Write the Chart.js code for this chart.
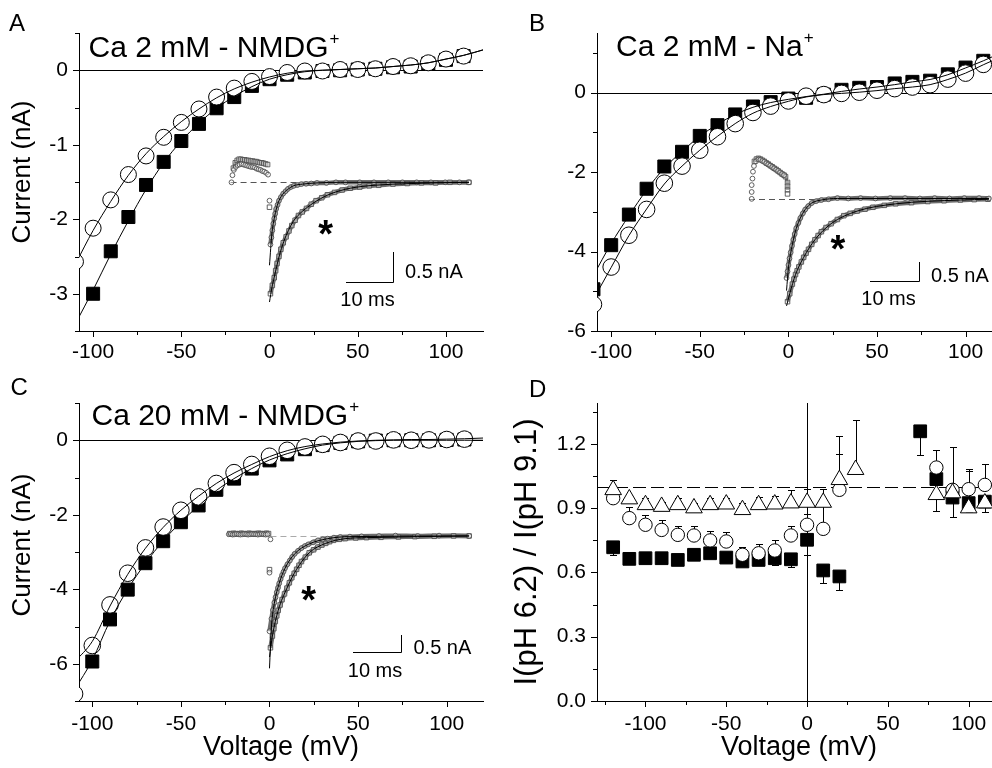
<!DOCTYPE html>
<html><head><meta charset="utf-8"><title>Figure</title>
<script src="https://cdn.jsdelivr.net/npm/chart.js@4.4.1/dist/chart.umd.min.js"></script>
<style>
html,body{margin:0;padding:0;background:#fff;overflow:hidden;}
body{position:relative;width:992px;height:768px;}
canvas{position:absolute;display:block;}
</style></head>
<body>
<canvas id="cA" width="496" height="370" style="left:0px;top:0px"></canvas>
<canvas id="cB" width="520" height="370" style="left:496px;top:0px"></canvas>
<canvas id="cC" width="496" height="398" style="left:0px;top:370px"></canvas>
<canvas id="cD" width="520" height="398" style="left:496px;top:370px"></canvas>
<canvas id="iA" width="265" height="185" style="left:215px;top:140px"></canvas>
<canvas id="iB" width="257" height="185" style="left:735px;top:140px"></canvas>
<canvas id="iC" width="265" height="190" style="left:215px;top:500px"></canvas>
<script>
// ================= DATA =================
// ---- Panel A : Ca 2 mM - NMDG+ (Voltage mV, Current nA)
const aSqV = [-100,-90,-80,-70,-60,-50,-40,-30,-20,-10,0,10,20,30,40,50,60,70,80,90,100,110];
const aSqI = [-3.0,-2.43,-1.97,-1.54,-1.23,-0.95,-0.72,-0.51,-0.36,-0.21,-0.12,-0.06,-0.03,-0.01,0.0,0.01,0.02,0.04,0.05,0.09,0.14,0.19];
const aCiV = [-110,-100,-90,-80,-70,-60,-50,-40,-30,-20,-10,0,10,20,30,40,50,60,70,80,90,100,110];
const aCiI = [-2.57,-2.12,-1.74,-1.40,-1.15,-0.90,-0.70,-0.52,-0.36,-0.24,-0.15,-0.085,-0.03,-0.01,-0.01,0.01,0.01,0.02,0.05,0.06,0.10,0.15,0.19];
const aFitSqV = [-110,-100,-90,-80,-70,-60,-50,-40,-30,-20,-10,0,10,20,30,40,50,60,70,80,90,100,110,122];
const aFitSqI = [-3.4,-2.95,-2.47,-2.02,-1.60,-1.24,-0.95,-0.71,-0.51,-0.35,-0.22,-0.12,-0.06,-0.02,0.0,0.01,0.02,0.03,0.05,0.07,0.10,0.15,0.20,0.28];
const aFitCiV = [-110,-100,-90,-80,-70,-60,-50,-40,-30,-20,-10,0,10,20,30,40,50,60,70,80,90,100,110,122];
const aFitCiI = [-2.6,-2.15,-1.76,-1.41,-1.12,-0.89,-0.69,-0.52,-0.37,-0.25,-0.16,-0.09,-0.04,-0.01,0.0,0.01,0.02,0.03,0.05,0.07,0.10,0.15,0.20,0.28];

// ---- Panel B : Ca 2 mM - Na+
const bSqV = [-110,-100,-90,-80,-70,-60,-50,-40,-30,-20,-10,0,10,20,30,40,50,60,70,80,90,100,110];
const bSqI = [-4.95,-3.84,-3.07,-2.42,-1.86,-1.49,-1.09,-0.82,-0.55,-0.35,-0.24,-0.15,-0.13,-0.05,0.07,0.12,0.14,0.23,0.27,0.30,0.46,0.63,0.80];
const bCiV = [-110,-100,-90,-80,-70,-60,-50,-40,-30,-20,-10,0,10,20,30,40,50,60,70,80,90,100,110];
const bCiI = [-5.33,-4.39,-3.59,-2.94,-2.28,-1.85,-1.45,-1.11,-0.78,-0.50,-0.34,-0.21,-0.09,-0.05,-0.02,0.01,0.06,0.10,0.14,0.20,0.34,0.49,0.71];
const bFitSqV = [-110,-100,-90,-80,-70,-60,-50,-40,-30,-20,-10,0,10,20,30,40,50,60,70,80,90,100,110,120];
const bFitSqI = [-4.6,-3.8,-3.1,-2.45,-1.90,-1.48,-1.10,-0.80,-0.55,-0.37,-0.25,-0.17,-0.10,-0.04,0.03,0.09,0.14,0.20,0.27,0.33,0.45,0.62,0.80,1.0];
const bFitCiV = [-110,-100,-90,-80,-70,-60,-50,-40,-30,-20,-10,0,10,20,30,40,50,60,70,80,90,100,110,120];
const bFitCiI = [-5.2,-4.4,-3.6,-2.93,-2.30,-1.85,-1.45,-1.10,-0.78,-0.52,-0.35,-0.22,-0.11,-0.05,-0.02,0.01,0.05,0.10,0.14,0.20,0.33,0.49,0.70,0.90];

// ---- Panel C : Ca 20 mM - NMDG+
const cSqV = [-100,-90,-80,-70,-60,-50,-40,-30,-20,-10,0,10,20,30,40,50,60,70,80,90,100,110];
const cSqI = [-5.94,-4.81,-4.01,-3.30,-2.71,-2.20,-1.75,-1.33,-1.03,-0.76,-0.54,-0.38,-0.24,-0.13,-0.07,-0.03,-0.01,0.0,0.0,0.0,0.01,0.02];
const cCiV = [-110,-100,-90,-80,-70,-60,-50,-40,-30,-20,-10,0,10,20,30,40,50,60,70,80,90,100,110];
const cCiI = [-6.81,-5.51,-4.42,-3.57,-2.89,-2.33,-1.88,-1.52,-1.16,-0.87,-0.65,-0.43,-0.27,-0.18,-0.11,-0.06,-0.02,-0.02,0.01,0.0,0.01,0.02,0.03];
const cFitSqV = [-110,-100,-90,-80,-70,-60,-50,-40,-30,-20,-10,0,10,20,30,40,50,60,70,80,90,100,110,121];
const cFitSqI = [-6.7,-5.9,-4.85,-4.0,-3.3,-2.7,-2.2,-1.76,-1.35,-1.03,-0.76,-0.53,-0.36,-0.23,-0.13,-0.07,-0.03,-0.01,0.0,0.0,0.0,0.0,0.0,0.0];
const cFitCiV = [-110,-100,-90,-80,-70,-60,-50,-40,-30,-20,-10,0,10,20,30,40,50,60,70,80,90,100,110,121];
const cFitCiI = [-5.95,-5.4,-4.45,-3.6,-2.9,-2.34,-1.88,-1.5,-1.16,-0.88,-0.65,-0.44,-0.28,-0.17,-0.10,-0.05,-0.02,0.0,0.01,0.02,0.02,0.03,0.04,0.06];

// ---- Panel D : I(pH 6.2) / I(pH 9.1)
const dSqV  = [-120,-110,-100,-90,-80,-70,-60,-50,-40,-30,-20,-10,0,10,20,70,80,90,100,110];
const dSqR  = [0.717,0.663,0.666,0.666,0.658,0.682,0.689,0.669,0.651,0.658,0.666,0.661,0.752,0.609,0.581,1.258,1.035,0.949,0.923,0.930];
const dSqLo = [0.680,0.645,null,null,null,null,null,null,null,null,0.635,0.627,0.680,0.549,0.518,1.149,null,null,0.880,0.880];
const dCiV  = [-120,-110,-100,-90,-80,-70,-60,-50,-40,-30,-20,-10,0,10,20,80,90,100,110];
const dCiR  = [0.946,0.853,0.822,0.798,0.775,0.772,0.749,0.744,0.682,0.689,0.702,0.772,0.822,0.803,0.985,1.089,0.985,0.988,1.008];
const dCiHi = [null,0.907,0.868,0.842,0.814,0.818,0.794,0.788,0.720,0.733,0.749,0.818,0.870,0.915,1.150,1.169,1.187,1.080,1.107];
const dTrV  = [-120,-110,-100,-90,-80,-70,-60,-50,-40,-30,-20,-10,0,10,20,30,80,90,100,110];
const dTrR  = [0.985,0.942,0.915,0.907,0.915,0.900,0.915,0.918,0.892,0.915,0.918,0.923,0.926,0.926,1.032,1.079,0.962,0.970,0.900,0.923];
const dTrHi = [1.030,0.960,0.945,0.930,0.945,0.925,0.945,0.945,0.925,0.950,0.955,0.982,0.990,0.990,1.234,1.312,null,null,1.075,null];
const dTrLo = [null,null,null,null,null,null,null,null,null,null,null,null,null,null,null,null,0.884,0.856,null,0.880];

// ---- Axis ticks / labels
const ivXTicks  = [-100,-75,-50,-25,0,25,50,75,100];
const ivXLabels = [-100,-50,0,50,100];
const aYTicks = [-3.5,-3,-2.5,-2,-1.5,-1,-0.5,0,0.5];
const aYLabels = [-3,-2,-1,0];
const bYTicks = [-6,-5,-4,-3,-2,-1,0,1];
const bYLabels = [-6,-4,-2,0];
const cYTicks = [-7,-6,-5,-4,-3,-2,-1,0,1];
const cYLabels = [-6,-4,-2,0];
const dXTicks = [-125,-100,-75,-50,-25,0,25,50,75,100];
const dXLabels = [-100,-50,0,50,100];
const dYTicks = [0,0.15,0.3,0.45,0.6,0.75,0.9,1.05,1.2,1.35];
const dYLabels = [0,0.3,0.6,0.9,1.2];

// ---- Insets (time ms, current nA relative to baseline)
// Inset A
const iaPreCiT = [-8.0,-7.8,-7.5,-7.1,-6.7,-6.3,-5.9,-5.5,-5.1,-4.7,-4.3,-3.9,-3.5,-3.1,-2.7,-2.3,-1.9,-1.5,-1.1,-0.7,-0.3,0.0];
const iaPreCiI = [0.0,0.12,0.21,0.26,0.29,0.30,0.31,0.30,0.29,0.28,0.27,0.26,0.26,0.25,0.23,0.22,0.21,0.19,0.18,0.16,0.13,-0.31];
const iaPreSqT = [-7.6,-7.2,-6.8,-6.4,-6.0,-5.6,-5.2,-4.8,-4.4,-4.0,-3.6,-3.2,-2.8,-2.4,-2.0,-1.6,-1.2,-0.8,-0.4,0.0];
const iaPreSqI = [0.24,0.33,0.37,0.39,0.39,0.38,0.38,0.37,0.37,0.36,0.36,0.35,0.35,0.34,0.33,0.33,0.32,0.31,0.30,-0.42];
const iaFastT = [0.2,0.4,0.6,0.8,1.0,1.2,1.4,1.7,2.0,2.4,2.9,3.4,3.9,4.5,5.1,5.9,6.7,7.7,8.8,10,12,14,16,19,22,25,28,31,34,37,40,42];
const iaFastI = [-1.05,-0.93,-0.81,-0.70,-0.61,-0.53,-0.45,-0.38,-0.31,-0.25,-0.19,-0.15,-0.11,-0.08,-0.06,-0.045,-0.03,-0.025,-0.02,-0.01,-0.01,0,0,0,0,0,0,0,0,0,0,0];
const iaFastFitT = [0,0.5,1,1.5,2,3,4,5,7,10,15,42];
const iaFastFitI = [-1.40,-0.87,-0.61,-0.43,-0.31,-0.18,-0.11,-0.06,-0.03,-0.01,0,0];
const iaSlowT = [0.2,0.6,1.0,1.3,1.6,2.0,2.4,2.9,3.5,4.1,4.7,5.4,6.1,6.9,7.8,8.8,9.8,11,12.2,13.7,15.3,17,19,21,23,26,29,32,35,38,42];
const iaSlowI = [-1.88,-1.74,-1.61,-1.49,-1.37,-1.25,-1.13,-1.02,-0.92,-0.82,-0.73,-0.64,-0.56,-0.50,-0.44,-0.37,-0.31,-0.26,-0.21,-0.17,-0.13,-0.10,-0.08,-0.06,-0.05,-0.03,-0.02,-0.01,-0.01,0,0];
const iaSlowFitT = [0,0.5,1,2,3,4,5,6,8,10,13,17,22,30,42];
const iaSlowFitI = [-2.02,-1.78,-1.60,-1.26,-1.00,-0.81,-0.66,-0.56,-0.42,-0.31,-0.19,-0.10,-0.05,-0.02,0];
// Inset B
const ibPreCiT = [-7.06,-7.06,-7.06,-6.9,-6.8,-6.6,-6.2,-5.7,-5.3,-4.9,-4.5,-4.1,-3.7,-3.3,-2.9,-2.5,-2.1,-1.7,-1.3,-0.9,-0.5];
const ibPreCiI = [0,0.18,0.36,0.53,0.71,0.86,0.98,1.03,1.02,0.99,0.97,0.93,0.90,0.87,0.83,0.80,0.76,0.73,0.69,0.65,0.62];
const ibPreSqT = [-6.5,-6.1,-5.7,-5.3,-4.9,-4.5,-4.1,-3.7,-3.3,-2.9,-2.5,-2.1,-1.7,-1.3,-0.9,-0.5,-0.2,0.2,0.2,0.2,0.2];
const ibPreSqI = [0.98,1.04,1.06,1.04,1.01,0.98,0.94,0.91,0.87,0.84,0.80,0.77,0.73,0.69,0.65,0.62,0.58,0.43,0.33,0.23,0.13];
const ibFastT = [0,0.2,0.39,0.6,0.84,1.1,1.37,1.65,1.96,2.4,2.8,3.3,3.78,4.4,5.1,6,7.06,8.5,10.3,12.5,15,18,21,24,27,30,33,36,39,41];
const ibFastI = [-2.07,-1.90,-1.73,-1.56,-1.40,-1.23,-1.07,-0.92,-0.77,-0.63,-0.50,-0.38,-0.28,-0.19,-0.11,-0.06,-0.03,-0.01,0.02,0.01,0.02,0.01,0.02,0.02,0.01,0.02,0.01,0.02,0.02,0.01];
const ibFastFitT = [0,0.4,0.84,1.37,1.96,2.8,3.78,5.1,7.06,10.3,41];
const ibFastFitI = [-2.40,-1.78,-1.42,-1.08,-0.78,-0.50,-0.28,-0.11,-0.03,0.01,0.01];
const ibSlowT = [0.2,0.65,1.18,1.5,1.82,2.15,2.49,3.0,3.47,3.96,4.45,5.1,5.75,6.4,7.06,8.0,9.02,10.3,11.6,12.9,14.3,15.9,17.5,19.8,22.1,25.3,28.6,31.9,35.2,38,40.8];
const ibSlowI = [-2.69,-2.48,-2.23,-2.10,-1.98,-1.88,-1.78,-1.65,-1.53,-1.42,-1.32,-1.19,-1.07,-0.96,-0.86,-0.75,-0.65,-0.54,-0.44,-0.38,-0.32,-0.27,-0.22,-0.17,-0.13,-0.10,-0.07,-0.05,-0.03,-0.02,-0.01];
const ibSlowFitT = [0,0.65,1.82,3.47,5.75,9.02,14.3,22.1,35.2,41];
const ibSlowFitI = [-2.80,-2.48,-1.98,-1.53,-1.07,-0.65,-0.32,-0.13,-0.03,-0.01];
// Inset C
const icPreCiT = [-8.4,-8.0,-7.6,-7.2,-6.8,-6.4,-6.0,-5.6,-5.2,-4.8,-4.4,-4.0,-3.6,-3.2,-2.8,-2.4,-2.0,-1.6,-1.2,-0.8,-0.4,0.2,0.0];
const icPreCiI = [0.05,0.06,0.04,0.05,0.06,0.05,0.04,0.05,0.06,0.05,0.04,0.05,0.06,0.05,0.05,0.04,0.05,0.06,0.05,0.04,0.05,-0.10,-1.09];
const icPreSqT = [-8.2,-7.8,-7.4,-7.0,-6.6,-6.2,-5.8,-5.4,-5.0,-4.6,-4.2,-3.8,-3.4,-3.0,-2.6,-2.2,-1.8,-1.4,-1.0,-0.6,-0.2,0.0];
const icPreSqI = [0.07,0.06,0.08,0.07,0.06,0.07,0.08,0.07,0.06,0.07,0.08,0.07,0.06,0.07,0.07,0.08,0.07,0.06,0.07,0.08,0.07,-1.0];
const icFastT = [0,0.4,0.7,1.0,1.25,1.5,1.75,2.0,2.3,2.6,2.9,3.2,3.7,4.2,4.7,5.2,5.9,6.6,7.3,8.0,9,10,11,12,13.3,14.6,16.6,19,22.6,26,30.6,35,41.2];
const icFastI = [-2.83,-2.46,-2.20,-1.98,-1.82,-1.67,-1.54,-1.41,-1.28,-1.16,-1.06,-0.96,-0.84,-0.73,-0.62,-0.53,-0.44,-0.36,-0.30,-0.25,-0.19,-0.13,-0.10,-0.08,-0.05,-0.03,-0.02,-0.01,0,0.01,0,0.01,0];
const icFastFitT = [0,0.4,1,2,3.2,5.2,8,12,16.6,41.2];
const icFastFitI = [-3.93,-2.70,-2.00,-1.41,-0.96,-0.53,-0.25,-0.08,-0.02,0];
const icSlowT = [0.2,0.6,0.9,1.2,1.5,1.8,2.2,2.6,3.1,3.6,4.1,4.6,5.1,5.6,6.1,6.6,7.4,8.2,9.1,10,10.8,11.6,12.4,13.2,14.4,15.6,17.8,20,23,26.6,30,34,38,41.2];
const icSlowI = [-3.32,-2.97,-2.75,-2.54,-2.37,-2.21,-2.05,-1.89,-1.72,-1.55,-1.39,-1.24,-1.11,-0.99,-0.87,-0.76,-0.63,-0.50,-0.41,-0.33,-0.27,-0.22,-0.17,-0.13,-0.10,-0.08,-0.06,-0.05,-0.04,-0.03,-0.02,-0.01,0,0];
const icSlowFitT = [0,0.6,1.8,3.6,5.6,8.2,11.6,15.6,20,41.2];
const icSlowFitI = [-3.60,-2.97,-2.21,-1.55,-0.99,-0.50,-0.22,-0.08,-0.05,0];

// ================= RENDERING =================
const FONT = "'Liberation Sans', Arial, Helvetica, sans-serif";
Chart.defaults.font.family = FONT;
Chart.defaults.color = '#000';
const pts = (xs, ys) => xs.map((x, i) => ({x: x, y: ys[i]}));
const near = (arr, v) => arr.some(a => Math.abs(a - v) < 1e-9);

function makeTextPlugin(items) {
  return { id: 'panelText', afterDraw(chart) {
    const ctx = chart.ctx;
    items.forEach(it => {
      ctx.save();
      ctx.fillStyle = '#000';
      ctx.font = (it.weight || 'normal') + ' ' + it.size + 'px ' + FONT;
      ctx.textAlign = it.align || 'left';
      ctx.textBaseline = it.baseline || 'alphabetic';
      ctx.translate(it.x, it.y);
      if (it.rot) ctx.rotate(it.rot * Math.PI / 180);
      ctx.fillText(it.text, 0, 0);
      if (it.sup) {
        const w = ctx.measureText(it.text).width;
        ctx.font = it.supSize + 'px ' + FONT;
        ctx.fillText(it.sup, w + 1, -it.supRise);
      }
      ctx.restore();
    });
  }};
}
function makeRefPlugin(lines) {
  return { id: 'refLines', beforeDatasetsDraw(chart) {
    const {ctx, chartArea: ca, scales: {x, y}} = chart;
    ctx.save();
    ctx.beginPath(); ctx.rect(ca.left, ca.top, ca.right - ca.left, ca.bottom - ca.top); ctx.clip();
    ctx.strokeStyle = '#000'; ctx.lineWidth = 1;
    lines.forEach(l => {
      ctx.setLineDash(l.dash || []);
      ctx.beginPath();
      if (l.axis === 'h') { const p = Math.round(y.getPixelForValue(l.v)) + 0.5; ctx.moveTo(ca.left, p); ctx.lineTo(ca.right, p); }
      else { const p = Math.round(x.getPixelForValue(l.v)) + 0.5; ctx.moveTo(p, ca.top); ctx.lineTo(p, ca.bottom); }
      ctx.stroke();
    });
    ctx.restore();
  }};
}
const tickPlugin = { id: 'axisTicks', afterDraw(chart) {
  const ctx = chart.ctx, xs = chart.scales.x, ys = chart.scales.y;
  ctx.save(); ctx.strokeStyle = '#000'; ctx.lineWidth = 1; ctx.beginPath();
  xs.ticks.forEach(t => { const p = Math.round(xs.getPixelForValue(t.value)) + 0.5; const y0 = Math.round(xs.top); ctx.moveTo(p, y0); ctx.lineTo(p, y0 + (t.label ? 6 : 4)); });
  ys.ticks.forEach(t => { const p = Math.round(ys.getPixelForValue(t.value)) + 0.5; const x0 = Math.round(ys.right); ctx.moveTo(x0, p); ctx.lineTo(x0 - (t.label ? 6 : 4), p); });
  ctx.stroke(); ctx.restore();
}};
function makeErrPlugin(sets) {
  return { id: 'errBars', beforeDatasetsDraw(chart) {
    const {ctx, scales: {x, y}} = chart;
    ctx.save(); ctx.strokeStyle = '#000'; ctx.lineWidth = 1;
    sets.forEach(s => {
      s.xs.forEach((xv, i) => {
        const px = Math.round(x.getPixelForValue(xv)) + 0.5, py = y.getPixelForValue(s.vals[i]);
        [s.hi, s.lo].forEach(arr => {
          if (!arr || arr[i] == null) return;
          const pe = Math.round(y.getPixelForValue(arr[i])) + 0.5;
          ctx.beginPath(); ctx.moveTo(px, py); ctx.lineTo(px, pe);
          ctx.moveTo(px - 3.5, pe); ctx.lineTo(px + 3.5, pe); ctx.stroke();
        });
      });
    });
    ctx.restore();
  }};
}

function axis(kind, o) {
  const cfg = {
    type: 'linear', position: kind === 'x' ? 'bottom' : 'left', min: o.min, max: o.max,
    grid: { display: false, drawTicks: false },
    border: { display: true, color: '#000', width: 1 },
    afterBuildTicks: s => { s.ticks = o.ticks.map(v => ({ value: v })); },
    afterFit: s => { if (kind === 'x') s.height = o.size; else s.width = o.size; },
    ticks: { autoSkip: false, maxRotation: 0, minRotation: 0, padding: o.pad, color: '#000', font: { size: 21 },
      callback: v => near(o.labels, v) ? o.fmt(v) : '' },
    title: { display: false }
  };
  if (o.title) {
    cfg.title = { display: true, text: o.title, color: '#000', font: { size: o.titleSize },
      padding: kind === 'x' ? { top: 0, bottom: o.titlePad } : { top: o.titlePad, bottom: 0 } };
  }
  return cfg;
}
const fmtInt = v => String(Math.round(v));
const fmt1 = v => v.toFixed(1);

function fitDs(xs, ys) {
  return { data: pts(xs, ys), showLine: true, borderColor: '#000', borderWidth: 1, pointRadius: 0,
    cubicInterpolationMode: 'monotone', order: 0 };
}
function markDs(xs, ys, style, r, fill, ord) {
  return { data: pts(xs, ys), showLine: false, pointStyle: style, pointRadius: r, pointHoverRadius: r,
    pointBackgroundColor: fill, pointBorderColor: '#000', pointBorderWidth: 1, order: ord };
}

function mainChart(id, o) {
  return new Chart(document.getElementById(id), {
    type: 'scatter',
    data: { datasets: o.datasets },
    options: {
      responsive: false, animation: false, events: [],
      layout: { padding: o.padding },
      plugins: { legend: { display: false }, tooltip: { enabled: false } },
      scales: { x: axis('x', o.x), y: axis('y', o.y) }
    },
    plugins: [makeRefPlugin(o.ref), tickPlugin, makeTextPlugin(o.texts)].concat(o.extra || [])
  });
}

// Panel A
mainChart('cA', {
  padding: { left: 0, top: 33, right: 13, bottom: 0 },
  x: { min: -108, max: 121, ticks: ivXTicks, labels: ivXLabels, fmt: fmtInt, pad: 8.5, size: 39 },
  y: { min: -3.5, max: 0.5, ticks: aYTicks, labels: aYLabels, fmt: fmtInt, pad: 11, size: 79 },
  datasets: [fitDs(aFitSqV, aFitSqI), fitDs(aFitCiV, aFitCiI),
    markDs(aCiV, aCiI, 'circle', 8, '#fff', 1), markDs(aSqV, aSqI, 'rect', 9.2, '#000', 2)],
  ref: [{ axis: 'h', v: 0 }],
  texts: [{ text: 'A', x: 9, y: 31, size: 24 },
          { text: 'Ca 2 mM - NMDG', x: 88.5, y: 57, size: 30, sup: '+', supSize: 17, supRise: 13 },
          { text: 'Current (nA)', x: 23, y: 172, size: 26, rot: -90, align: 'center', baseline: 'middle' }]
});
// Panel B
mainChart('cB', {
  padding: { left: 0, top: 33, right: 15, bottom: 0 },
  x: { min: -108, max: 120, ticks: ivXTicks, labels: ivXLabels, fmt: fmtInt, pad: 8.5, size: 39 },
  y: { min: -6, max: 1.5, ticks: bYTicks, labels: bYLabels, fmt: fmtInt, pad: 11, size: 101 },
  datasets: [fitDs(bFitSqV, bFitSqI), fitDs(bFitCiV, bFitCiI),
    markDs(bCiV, bCiI, 'circle', 8.3, '#fff', 1), markDs(bSqV, bSqI, 'rect', 9.2, '#000', 2)],
  ref: [{ axis: 'h', v: 0 }],
  texts: [{ text: 'B', x: 33, y: 31, size: 24 },
          { text: 'Ca 2 mM - Na', x: 120, y: 55.5, size: 30, sup: '+', supSize: 17, supRise: 13 }]
});
// Panel C
mainChart('cC', {
  padding: { left: 0, top: 33, right: 13, bottom: 0 },
  x: { min: -107.5, max: 120.5, ticks: ivXTicks, labels: ivXLabels, fmt: fmtInt, pad: 10.5, size: 67,
       title: 'Voltage (mV)', titleSize: 27, titlePad: 4.5 },
  y: { min: -7, max: 1, ticks: cYTicks, labels: cYLabels, fmt: fmtInt, pad: 11, size: 79 },
  datasets: [fitDs(cFitSqV, cFitSqI), fitDs(cFitCiV, cFitCiI),
    markDs(cCiV, cCiI, 'circle', 8.3, '#fff', 1), markDs(cSqV, cSqI, 'rect', 9.2, '#000', 2)],
  ref: [{ axis: 'h', v: 0 }],
  texts: [{ text: 'C', x: 10.5, y: 25, size: 24 },
          { text: 'Ca 20 mM - NMDG', x: 91.5, y: 55, size: 30, sup: '+', supSize: 17, supRise: 13 },
          { text: 'Current (nA)', x: 23, y: 175, size: 26, rot: -90, align: 'center', baseline: 'middle' }]
});
// Panel D
mainChart('cD', {
  padding: { left: 0, top: 33, right: 15, bottom: 0 },
  x: { min: -130, max: 120, ticks: dXTicks, labels: dXLabels, fmt: fmtInt, pad: 10.5, size: 67,
       title: 'Voltage (mV)', titleSize: 27, titlePad: 4.5 },
  y: { min: 0, max: 1.39, ticks: dYTicks, labels: dYLabels, fmt: fmt1, pad: 11, size: 101,
       title: 'I(pH 6.2) / I(pH 9.1)', titleSize: 31, titlePad: 13 },
  datasets: [
    markDs(dTrV, dTrR, 'triangle', 9.6, '#fff', 1),
    markDs(dCiV, dCiR, 'circle', 6.7, '#fff', 2),
    markDs(dSqV, dSqR, 'rect', 9, '#000', 3)],
  ref: [{ axis: 'v', v: 0 }, { axis: 'h', v: 1, dash: [13, 5] }],
  texts: [{ text: 'D', x: 33, y: 27, size: 24 }],
  extra: [makeErrPlugin([
    { xs: dSqV, vals: dSqR, lo: dSqLo },
    { xs: dCiV, vals: dCiR, hi: dCiHi },
    { xs: dTrV, vals: dTrR, hi: dTrHi, lo: dTrLo }])]
});

// ---- Insets
const GRAY = '#6e6e6e';
function insetDecor(o) {
  return { id: 'insetDecor',
    beforeDatasetsDraw(chart) {
      const {ctx, scales: {x, y}} = chart;
      ctx.save(); ctx.strokeStyle = o.baseColor; ctx.lineWidth = 1; ctx.setLineDash([6, 4]);
      const p = Math.round(y.getPixelForValue(0)) + 0.5;
      ctx.beginPath(); ctx.moveTo(x.getPixelForValue(o.base[0]), p); ctx.lineTo(x.getPixelForValue(o.base[1]), p); ctx.stroke();
      ctx.restore();
    },
    afterDraw(chart) {
      const {ctx, scales: {x, y}} = chart;
      const cx = Math.round(x.getPixelForValue(o.bar.t)) + 0.5, cy = Math.round(y.getPixelForValue(o.bar.i)) + 0.5;
      const lx = Math.round(x.getPixelForValue(o.bar.t - o.bar.dt)), ty = Math.round(y.getPixelForValue(o.bar.i + o.bar.di));
      ctx.save(); ctx.strokeStyle = '#000'; ctx.lineWidth = 1;
      ctx.beginPath(); ctx.moveTo(lx, cy); ctx.lineTo(cx, cy); ctx.lineTo(cx, ty); ctx.stroke();
      ctx.fillStyle = '#000'; ctx.font = '20px ' + FONT; ctx.textBaseline = 'alphabetic';
      ctx.textAlign = 'left'; ctx.fillText('0.5 nA', cx + o.nA[0], cy + o.nA[1]);
      ctx.textAlign = 'center'; ctx.fillText('10 ms', cx + o.ms[0], cy + o.ms[1]);
      ctx.font = 'bold 38px ' + FONT;
      ctx.fillText('*', x.getPixelForValue(o.star[0]), y.getPixelForValue(o.star[1]) + 20);
      ctx.restore();
    }};
}
function lineDs(xs, ys, color, w, ord) {
  return { data: pts(xs, ys), showLine: true, borderColor: color, borderWidth: w, pointRadius: 0,
    cubicInterpolationMode: 'monotone', clip: false, order: ord };
}
function dotDs(xs, ys, style, r, ord) {
  return { data: pts(xs, ys), showLine: false, pointStyle: style, pointRadius: r, pointHoverRadius: r,
    pointBackgroundColor: 'rgba(255,255,255,0.4)', pointBorderColor: '#505050', pointBorderWidth: 0.9,
    clip: false, order: ord };
}
function insetChart(id, box, map, d, decor) {
  const xmin = (box.left - map.t0x) / map.pxms, xmax = xmin + box.w / map.pxms;
  const ymax = (map.i0y - box.top) / map.pxna, ymin = ymax - box.h / map.pxna;
  return new Chart(document.getElementById(id), {
    type: 'scatter',
    data: { datasets: [
      lineDs(d.fastFit[0], d.fastFit[1], '#000', 1, 0),
      lineDs(d.slowFit[0], d.slowFit[1], '#000', 1, 1),
      dotDs(d.fast[0], d.fast[1], 'circle', 2.4, 2),
      dotDs(d.slow[0], d.slow[1], 'rect', 3.2, 3),
      dotDs(d.preCi[0], d.preCi[1], 'circle', 2.4, 4),
      dotDs(d.preSq[0], d.preSq[1], 'rect', 3.2, 5),
      lineDs(d.fast[0], d.fast[1], GRAY, 4.5, 6),
      lineDs(d.slow[0], d.slow[1], GRAY, 4.5, 7),
      lineDs(d.preSq[0].slice(0, -1), d.preSq[1].slice(0, -1), GRAY, 3, 8)
    ]},
    options: {
      responsive: false, animation: false, events: [],
      layout: { padding: 0 },
      plugins: { legend: { display: false }, tooltip: { enabled: false } },
      scales: { x: { type: 'linear', display: false, min: xmin, max: xmax },
                y: { type: 'linear', display: false, min: ymin, max: ymax } }
    },
    plugins: [insetDecor(decor)]
  });
}
insetChart('iA', { left: 215, top: 140, w: 265, h: 185 }, { t0x: 267, i0y: 180, pxms: 4.9, pxna: 62 },
  { fast: [iaFastT, iaFastI], slow: [iaSlowT, iaSlowI], fastFit: [iaFastFitT, iaFastFitI], slowFit: [iaSlowFitT, iaSlowFitI],
    preCi: [iaPreCiT, iaPreCiI], preSq: [iaPreSqT, iaPreSqI] },
  { base: [-8.2, 42], baseColor: '#555', bar: { t: 26.1, i: -1.677, dt: 10, di: 0.5 }, nA: [11.5, -5], ms: [-26, 23], star: [11.8, -0.75] });
insetChart('iB', { left: 735, top: 140, w: 257, h: 185 }, { t0x: 784, i0y: 197.3, pxms: 5.1, pxna: 40 },
  { fast: [ibFastT, ibFastI], slow: [ibSlowT, ibSlowI], fastFit: [ibFastFitT, ibFastFitI], slowFit: [ibSlowFitT, ibSlowFitI],
    preCi: [ibPreCiT, ibPreCiI], preSq: [ibPreSqT, ibPreSqI] },
  { base: [-7.6, 41], baseColor: '#555', bar: { t: 26.9, i: -2.14, dt: 10, di: 0.5 }, nA: [11.5, 0], ms: [-31, 23], star: [10.4, -1.14] });
insetChart('iC', { left: 215, top: 500, w: 265, h: 190 }, { t0x: 267, i0y: 533.3, pxms: 5, pxna: 35.2 },
  { fast: [icFastT, icFastI], slow: [icSlowT, icSlowI], fastFit: [icFastFitT, icFastFitI], slowFit: [icSlowFitT, icSlowFitI],
    preCi: [icPreCiT, icPreCiI], preSq: [icPreSqT, icPreSqI] },
  { base: [0.2, 41], baseColor: '#aaa', bar: { t: 27.2, i: -3.44, dt: 10, di: 0.5 }, nA: [12, 1], ms: [-26.5, 24], star: [8.1, -1.70] });
</script>
</body></html>
